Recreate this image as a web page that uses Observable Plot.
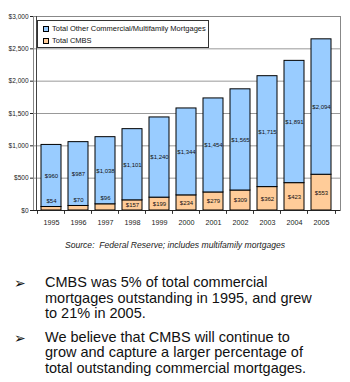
<!DOCTYPE html>
<html><head><meta charset="utf-8">
<script src="https://cdn.jsdelivr.net/npm/d3@7"></script>
<script src="https://cdn.jsdelivr.net/npm/@observablehq/plot@0.6"></script>
<style>
body{margin:0;background:#fff;font-family:"Liberation Sans",Arial,sans-serif;}
#wrap{position:relative;width:350px;}
#legend{position:absolute;left:37px;top:20px;width:170px;height:26px;border:1px solid #333;background:#fff;font-size:7.5px;color:#111;}
.li{position:absolute;left:5px;display:flex;align-items:center;}
.sw{width:4px;height:4px;border:1px solid #000;margin-right:3px;}
#source{font-style:italic;font-size:8.6px;color:#222;text-align:center;width:350px;margin-top:8px;}
ul{list-style:none;margin:0;padding:0;width:350px;}
li{position:relative;padding-left:45px;padding-right:30px;font-size:14.5px;line-height:15.5px;color:#111;margin-bottom:8px;}
li .ar{position:absolute;left:14px;top:1px;font-family:"DejaVu Sans";font-size:14px;line-height:15px;}
</style></head>
<body>
<div id="wrap"><div id="chart"></div>
<div id="legend">
<div class="li" style="top:3px"><span class="sw" style="background:#99ccff"></span>Total Other Commercial/Multifamily Mortgages</div>
<div class="li" style="top:15px"><span class="sw" style="background:#ffcc99"></span>Total CMBS</div>
</div></div>
<div id="source">Source:&nbsp; Federal Reserve; includes multifamily mortgages</div>
<ul id="bullets" style="margin-top:25px">
<li><span class="ar">➢</span>CMBS was 5% of total commercial mortgages outstanding in 1995, and grew to 21% in 2005.</li>
<li><span class="ar">➢</span>We believe that CMBS will continue to grow and capture a larger percentage of total outstanding commercial mortgages.</li>
</ul>
<script>
const years = ["1995","1996","1997","1998","1999","2000","2001","2002","2003","2004","2005"];
const cmbs = [54,70,96,157,199,234,279,309,362,423,553];
const other = [960,987,1038,1101,1240,1344,1454,1565,1715,1891,2094];
const yTicks = [0,500,1000,1500,2000,2500,3000];

const rows = [];
years.forEach((y,i)=>{
  rows.push({year:y, series:"Total CMBS", value:cmbs[i]});
  rows.push({year:y, series:"Other", value:other[i]});
});
const fmt = d3.format("$,");
const otherLabels = years.map((y,i)=>({year:y, y:cmbs[i]+other[i]/2, t:fmt(other[i])}));
const cmbsLabels = years.map((y,i)=>({year:y, small:cmbs[i]<120, y:cmbs[i]<120?cmbs[i]:cmbs[i]/2, t:fmt(cmbs[i])}));

const chart = Plot.plot({
  width:350, height:232,
  marginLeft:33, marginRight:10, marginTop:16, marginBottom:22,
  style:{fontFamily:"Liberation Sans, Arial, sans-serif", fontSize:"6.5px", background:"#fff", color:"#222"},
  x:{domain:years, padding:0.25, label:null},
  y:{domain:[0,3000], label:null},
  color:{domain:["Total CMBS","Other"], range:["#ffcc99","#99ccff"]},
  marks:[
    Plot.gridY(yTicks,{stroke:"#999", strokeOpacity:1}),
    Plot.frame({stroke:"#888"}),
    Plot.axisY(yTicks,{tickFormat:fmt, tickSize:3, tickPadding:2, fontSize:6.5}),
    Plot.axisX({tickSize:0, tickPadding:9, fontSize:7.2}),
    Plot.ruleX(years,{x:d=>d, dx:-14, y1:0, y2:-60, stroke:"#333"}),
    Plot.ruleX(["2005"],{x:d=>d, dx:14, y1:0, y2:-60, stroke:"#333"}),
    Plot.barY(rows, Plot.stackY({x:"year", y:"value", fill:"series", stroke:"#000", strokeWidth:1})),
    Plot.text(otherLabels,{x:"year", y:"y", text:"t", fontSize:6, fill:"#111"}),
    Plot.text(cmbsLabels.filter(d=>!d.small),{x:"year", y:"y", text:"t", fontSize:6, fill:"#111"}),
    Plot.text(cmbsLabels.filter(d=>d.small),{x:"year", y:"y", text:"t", fontSize:6, fill:"#111", dy:-6}),
    Plot.ruleY([0],{stroke:"#222"}),
    Plot.ruleX(["1995"],{x:d=>d, dx:-15, stroke:"#444"})
  ]
});
document.getElementById("chart").appendChild(chart);
</script>
</body></html>
